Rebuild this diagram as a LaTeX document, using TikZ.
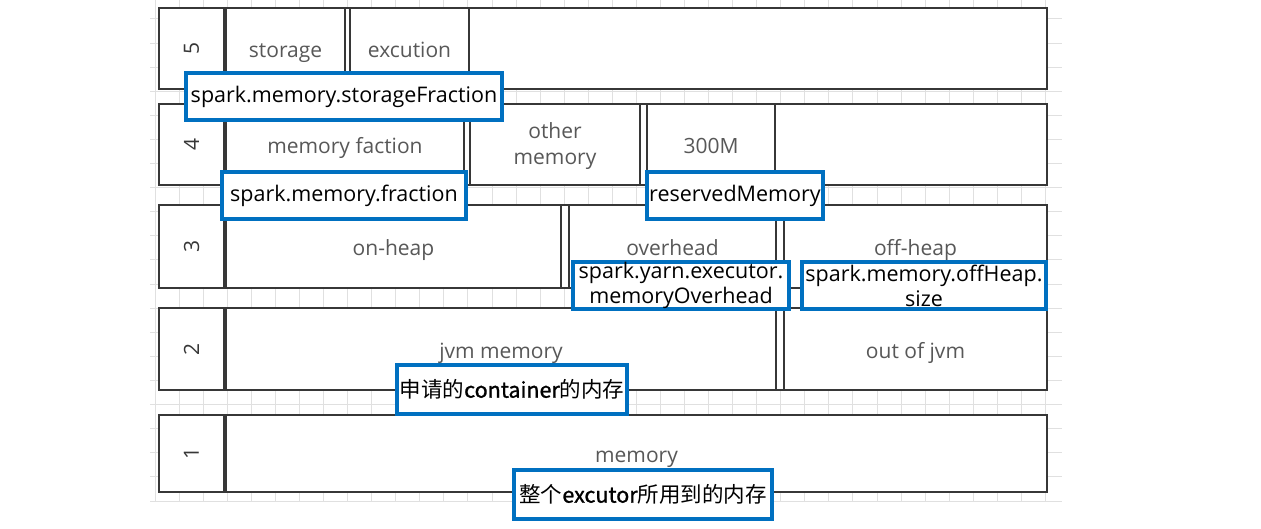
\documentclass[tikz,border=0pt]{standalone}
\usepackage{fontspec}
\setmainfont{Open Sans}
\newfontfamily\cjk{Noto Sans CJK SC}
\newfontfamily\cjkb[FakeBold=1.2]{Noto Sans CJK SC}
\definecolor{gridc}{RGB}{224,224,224}
\definecolor{edge}{RGB}{55,55,55}
\definecolor{graytext}{RGB}{88,88,88}
\definecolor{bluec}{RGB}{0,112,192}
\newcommand\mybox[6]{\node[#1, minimum width={#4-#2}, minimum height={#5-#3}] (#6) at ({(#2+#4)/2},{(#3+#5)/2})}
\tikzset{
  gridline/.style={draw=gridc, line width=1pt},
  cell/.style={draw=edge, line width=2.6pt, fill=white, inner sep=0pt, text=graytext, font=\fontsize{21}{26}\selectfont, align=center, text height=19.5pt, text depth=1pt},
  twoline/.style={cell, text height=, text depth=},
  numtext/.style={text=edge, font=\fontsize{21}{25}\selectfont, rotate=90, inner sep=0pt},
  tag/.style={draw=bluec, line width=3.5pt, fill=white, inner sep=0pt, text=black, font=\fontsize{21.5}{25}\selectfont, align=center},
  cjktag/.style={tag, font=\cjk\fontsize{21.5}{26}\selectfont},
}
\begin{document}
\begin{tikzpicture}[x=1pt,y=-1pt]
\fill[white] (0,0) rectangle (1261,529);
\useasboundingbox (0,0) rectangle (1261,529);
% grid
\begin{scope}
\clip (150,0) rectangle (1062,502);
\foreach \i in {0,...,37} \draw[gridline] ({155.2+24.06*\i},0) -- ++(0,502);
\foreach \j in {0,...,20} \draw[gridline] (150,{19+24.1*\j}) -- (1062,{19+24.1*\j});
\end{scope}
% row 5
\mybox{cell}{159}{8}{1047}{89}{row5}{};
\mybox{cell}{159}{8}{224}{89}{lab5}{};
\node[numtext] (n5) at (191.5,48.5) {5};
\mybox{cell}{226}{8}{345}{89}{storage}{storage};
\mybox{cell}{350}{8}{469}{89}{excution}{excution};
% row 4
\mybox{cell}{159}{104}{1047}{185}{row4}{};
\mybox{cell}{159}{104}{224}{185}{lab4}{};
\node[numtext] (n4) at (191.5,144.5) {4};
\mybox{cell}{226}{104}{464}{185}{faction}{memory faction};
\mybox{twoline}{470}{104}{640}{185}{other}{};
\node[text=graytext, font=\fontsize{21}{26}\selectfont, align=center, inner sep=0pt] (othertext) at (555,146.5) {other\\memory};
\mybox{cell}{647}{104}{775}{185}{m300}{300M};
% row 3
\mybox{cell}{159}{205}{1047}{288}{row3}{};
\mybox{cell}{159}{205}{224}{288}{lab3}{};
\node[numtext] (n3) at (191.5,246.5) {3};
\mybox{cell}{226}{205}{561}{288}{onheap}{on-heap};
\mybox{cell}{569}{205}{776}{288}{overhead}{overhead};
\mybox{cell}{784}{205}{1047}{288}{offheap}{off-heap};
% row 2
\mybox{cell}{159}{308}{1047}{390}{row2}{};
\mybox{cell}{159}{308}{224}{390}{lab2}{};
\node[numtext] (n2) at (191.5,349) {2};
\mybox{cell}{226}{308}{776}{390}{jvm}{jvm memory};
\mybox{cell}{784}{308}{1047}{390}{outjvm}{out of jvm};
% row 1
\mybox{cell}{159}{415}{1047}{492}{row1}{};
\mybox{cell}{159}{415}{224}{492}{lab1}{};
\node[numtext] (n1) at (191.5,453.5) {1};
\mybox{cell}{226}{415}{1047}{492}{memory}{memory};
% blue tags
\mybox{tag}{186}{73}{502}{120}{tStorage}{spark.memory.storageFraction};
\mybox{tag}{222}{172}{466}{219}{tFraction}{spark.memory.fraction};
\mybox{tag}{647}{172}{823}{219}{tReserved}{reservedMemory};
\mybox{tag}{573}{262}{789}{309}{tOverhead}{spark.yarn.executor.\\memoryOverhead};
\mybox{tag}{802}{262}{1046}{309}{tOffheap}{spark.memory.offHeap.\\size};
\mybox{cjktag}{397}{365}{627}{414}{tContainer}{申请的{\cjkb container}的内存};
\mybox{cjktag}{514}{470}{772}{519}{tExecutor}{整个{\cjkb excutor}所用到的内存};
\end{tikzpicture}
\end{document}
